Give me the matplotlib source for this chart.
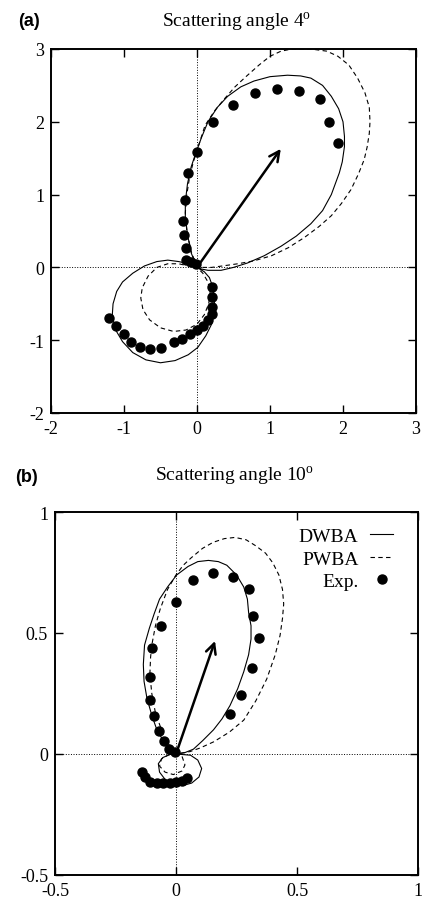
import matplotlib
matplotlib.use("Agg")
import matplotlib.pyplot as plt

plt.rcParams['font.family'] = ['Liberation Serif', 'DejaVu Serif']
plt.rcParams['mathtext.fontset'] = 'custom'
plt.rcParams['mathtext.rm'] = 'Liberation Serif'

# ---- panel (a): scattering angle 4 deg ----
dwba_a_x = [0, -0.08, -0.13, -0.16, -0.16, -0.13, -0.08, -0.02, 0.06, 0.15, 0.28, 0.42, 0.6, 0.78, 1.0, 1.24,
            1.42, 1.56, 1.72, 1.84, 1.94, 2.0, 2.02, 2.02, 1.99, 1.95, 1.84, 1.72, 1.56, 1.36, 1.15, 0.92, 0.69,
            0.5, 0.33, 0.15, 0.05, 0,
            0.1, 0.17, 0.22, 0.24, 0.23, 0.2, 0.12, 0.01, -0.12, -0.3, -0.5, -0.7, -0.88, -1.02, -1.12, -1.16,
            -1.15, -1.1, -1.02, -0.88, -0.72, -0.55, -0.4, -0.25, -0.12, 0]
dwba_a_y = [0, 0.2, 0.45, 0.7, 0.9, 1.15, 1.38, 1.56, 1.78, 2.0, 2.2, 2.35, 2.48, 2.56, 2.62, 2.64,
            2.63, 2.6, 2.5, 2.35, 2.18, 2.0, 1.8, 1.66, 1.45, 1.3, 1.0, 0.78, 0.6, 0.43, 0.29, 0.16, 0.06,
            0.0, -0.04, -0.04, -0.02, 0,
            -0.06, -0.14, -0.28, -0.45, -0.62, -0.78, -0.94, -1.1, -1.2, -1.28, -1.31, -1.27, -1.17, -1.02, -0.85, -0.65,
            -0.5, -0.33, -0.2, -0.08, 0.02, 0.08, 0.1, 0.08, 0.05, 0]
pwba_a_x = [0, -0.08, -0.14, -0.16, -0.14, -0.1, -0.05, 0.03, 0.11, 0.24, 0.38, 0.52, 0.67, 0.85, 1.0, 1.15,
            1.3, 1.56, 1.78, 1.93, 2.08, 2.2, 2.3, 2.36, 2.37, 2.36, 2.33, 2.29, 2.21, 2.11, 1.98, 1.84, 1.67,
            1.47, 1.25, 1.02, 0.78, 0.56, 0.35, 0.2, 0,
            -0.12, -0.25, -0.4, -0.55, -0.67, -0.75, -0.77, -0.74, -0.65, -0.5, -0.32, -0.15, 0.0, 0.1, 0.16,
            0.18, 0.15, 0.08, 0]
pwba_a_y = [0, 0.22, 0.5, 0.75, 1.0, 1.25, 1.45, 1.7, 1.95, 2.15, 2.32, 2.48, 2.62, 2.78, 2.9, 2.97,
            3.0, 3.0, 2.97, 2.9, 2.78, 2.6, 2.4, 2.2, 2.0, 1.84, 1.65, 1.48, 1.28, 1.07, 0.88, 0.71, 0.56,
            0.41, 0.27, 0.16, 0.09, 0.05, 0.02, 0.0, 0,
            0.02, 0.05, 0.05, 0.0, -0.12, -0.28, -0.42, -0.58, -0.72, -0.83, -0.88, -0.86, -0.78, -0.65, -0.5,
            -0.35, -0.2, -0.08, 0]
exp_a_x = [1.93, 1.81, 1.69, 1.40, 1.10, 0.79, 0.49, 0.22, 0.0, -0.13, -0.17, -0.19, -0.18, -0.15, -0.15,
           -0.08, -0.02,
           0.2, 0.21, 0.21, 0.2, 0.15, 0.08, 0.0, -0.09, -0.2, -0.31, -0.49, -0.64, -0.78, -0.9, -1.0, -1.11, -1.21]
exp_a_y = [1.71, 2.0, 2.32, 2.42, 2.45, 2.40, 2.23, 2.0, 1.59, 1.29, 0.92, 0.64, 0.44, 0.26, 0.10,
           0.08, 0.04,
           -0.27, -0.41, -0.54, -0.64, -0.72, -0.8, -0.86, -0.92, -0.98, -1.03, -1.11, -1.12, -1.09, -1.02, -0.92, -0.8, -0.7]
arrow_a = (1.17, 1.66)

# ---- panel (b): scattering angle 10 deg ----
dwba_b_x = [0, -0.025, -0.05, -0.079, -0.1, -0.12, -0.132, -0.135, -0.13, -0.11, -0.09, -0.068, -0.035, 0.003,
            0.05, 0.09, 0.134, 0.175, 0.21, 0.25, 0.28, 0.295, 0.30, 0.31, 0.31, 0.3, 0.28, 0.255, 0.223, 0.19,
            0.155, 0.11, 0.072, 0.035, 0,
            0.06, 0.09, 0.106, 0.095, 0.065, 0.03, -0.01, -0.045, -0.068, -0.073, -0.055, -0.025, 0]
dwba_b_y = [0, 0.02, 0.05, 0.10, 0.16, 0.23, 0.3, 0.37, 0.45, 0.52, 0.58, 0.64, 0.69, 0.74,
            0.775, 0.795, 0.80, 0.795, 0.78, 0.74, 0.69, 0.64, 0.585, 0.53, 0.475, 0.41, 0.34, 0.27, 0.20, 0.145,
            0.10, 0.055, 0.02, 0.005, 0,
            -0.005, -0.025, -0.06, -0.095, -0.12, -0.13, -0.125, -0.105, -0.075, -0.04, -0.015, -0.002, 0]
pwba_b_x = [0, -0.03, -0.06, -0.085, -0.1, -0.108, -0.105, -0.1, -0.085, -0.065, -0.035, 0.0, 0.03, 0.062,
            0.11, 0.154, 0.2, 0.244, 0.29, 0.33, 0.37, 0.40, 0.425, 0.44, 0.445, 0.44, 0.43, 0.41, 0.375, 0.33,
            0.28, 0.22, 0.155, 0.1, 0.058, 0,
            0.025, 0.037, 0.025, -0.011, -0.045, -0.068, -0.06, -0.03, 0]
pwba_b_y = [0, 0.04, 0.1, 0.17, 0.25, 0.33, 0.4, 0.45, 0.53, 0.6, 0.68, 0.74, 0.78, 0.81,
            0.85, 0.875, 0.89, 0.895, 0.885, 0.86, 0.83, 0.79, 0.74, 0.68, 0.62, 0.56, 0.49, 0.41, 0.31, 0.22,
            0.14, 0.09, 0.05, 0.025, 0.01, 0,
            -0.01, -0.045, -0.07, -0.085, -0.075, -0.05, -0.02, -0.003, 0]
exp_b_x = [0.0, 0.07, 0.154, 0.234, 0.30, 0.32, 0.343, 0.315, 0.267, 0.223,
           -0.062, -0.098, -0.109, -0.107, -0.092, -0.072, -0.05, -0.028, -0.006,
           -0.139, -0.128, -0.107, -0.08, -0.052, -0.025, 0.0, 0.025, 0.044]
exp_b_y = [0.63, 0.72, 0.75, 0.73, 0.68, 0.57, 0.48, 0.355, 0.244, 0.165,
           0.53, 0.438, 0.317, 0.224, 0.156, 0.096, 0.052, 0.02, 0.007,
           -0.076, -0.094, -0.114, -0.118, -0.118, -0.12, -0.114, -0.11, -0.10]
arrow_b = (0.165, 0.478)

fig = plt.figure(figsize=(4.22, 9.12), dpi=100)
ax1 = fig.add_axes([51/422, 1-414/912, 365/422, 364/912])
ax2 = fig.add_axes([55/422, 1-876/912, 363/422, 363/912])


def style(ax, lim, ticks):
    ax.set_xlim(lim)
    ax.set_ylim(lim)
    ax.set_xticks(ticks)
    ax.set_yticks(ticks)
    ax.set_xticklabels(['%g' % t for t in ticks])
    ax.set_yticklabels(['%g' % t for t in ticks])
    ax.axhline(0, color='black', lw=0.7, ls=':', zorder=0)
    ax.axvline(0, color='black', lw=0.7, ls=':', zorder=0)
    ax.tick_params(direction='in', length=6, width=1, top=True, right=True, labelsize=13, pad=5)
    for s in ax.spines.values():
        s.set_linewidth(1.4)


style(ax1, (-2, 3), [-2, -1, 0, 1, 2, 3])
style(ax2, (-0.5, 1), [-0.5, 0, 0.5, 1])

ax1.plot(dwba_a_x, dwba_a_y, color='black', lw=0.8, label='DWBA')
ax1.plot(pwba_a_x, pwba_a_y, color='black', lw=0.8, ls=(0, (4, 3)), label='PWBA')
ax1.plot(exp_a_x, exp_a_y, 'o', color='black', ms=6.5, label='Exp.')
ax1.annotate('', xy=arrow_a, xytext=(0, 0),
             arrowprops=dict(arrowstyle='->', color='black', lw=1.8, mutation_scale=18))

ax2.plot(dwba_b_x, dwba_b_y, color='black', lw=0.8, label='DWBA')
ax2.plot(pwba_b_x, pwba_b_y, color='black', lw=0.8, ls=(0, (4, 3)), label='PWBA')
ax2.plot(exp_b_x, exp_b_y, 'o', color='black', ms=6.5, label='Exp.')
ax2.annotate('', xy=arrow_b, xytext=(0, 0),
             arrowprops=dict(arrowstyle='->', color='black', lw=1.8, mutation_scale=18))
ax2.legend(loc='upper right', bbox_to_anchor=(0.97, 0.995), markerfirst=False, frameon=False, fontsize=14,
           handlelength=1.2, handletextpad=0.6, labelspacing=0.25, borderaxespad=0.3)

fig.text(237/422, 1-22/912, 'Scattering angle 4$^{\\mathrm{o}}$', ha='center', va='center', fontsize=14)
fig.text(234/422, 1-476/912, 'Scattering angle 10$^{\\mathrm{o}}$', ha='center', va='center', fontsize=14)
fig.text(18/422, 1-22/912, '(a)', ha='left', va='center', fontsize=13, fontweight='bold',
         family='Liberation Sans')
fig.text(15/422, 1-478/912, '(b)', ha='left', va='center', fontsize=13, fontweight='bold',
         family='Liberation Sans')

fig.savefig('out.png', dpi=100)
